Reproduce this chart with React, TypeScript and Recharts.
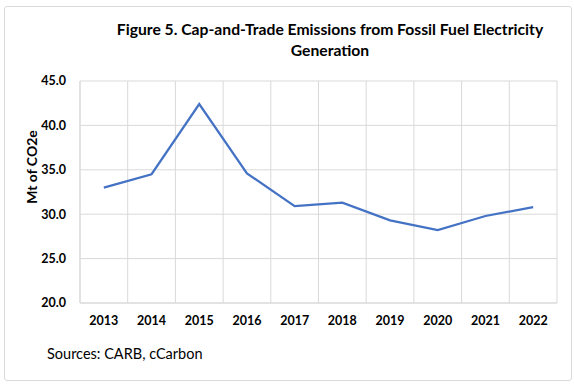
import React from 'react';
import { LineChart, Line, XAxis, YAxis, CartesianGrid } from 'recharts';

const years = ['2013', '2014', '2015', '2016', '2017', '2018', '2019', '2020', '2021', '2022'];
const emissions = [33.0, 34.5, 42.4, 34.6, 30.9, 31.3, 29.3, 28.2, 29.8, 30.8];
const yTicks = [20, 25, 30, 35, 40, 45];

const data = years.map((y, i) => ({ year: y, value: emissions[i] }));

const FONT = 'Lato, "Open Sans", sans-serif';

const YLabel = () => (
  <text
    x={0}
    y={0}
    transform="translate(37,167) rotate(-90)"
    textAnchor="middle"
    style={{ fontSize: 14, fontWeight: 700, fill: '#000', fontFamily: FONT }}
  >
    Mt of CO2e
  </text>
);

export default function App() {
  const n = years.length;
  return (
    <div style={{ position: 'fixed', left: 0, top: 0, width: 574, height: 384, background: '#fff', fontFamily: FONT }}>
      <div style={{ position: 'absolute', left: 4, top: 6, width: 568, height: 375, border: '1px solid #d9d9d9', borderRadius: 3, boxSizing: 'border-box' }} />
      <div style={{ position: 'absolute', left: 100, width: 460, top: 19, textAlign: 'center', fontWeight: 700, fontSize: 15.7, lineHeight: '21px', color: '#000' }}>
        Figure 5. Cap-and-Trade Emissions from Fossil Fuel Electricity<br />Generation
      </div>
      <div style={{ position: 'absolute', left: 0, top: 0 }}>
        <LineChart width={574} height={384} data={data} margin={{ top: 81, right: 17, bottom: 51, left: 20 }}>
          <CartesianGrid
            stroke="#d9d9d9"
            strokeWidth={1}
            verticalCoordinatesGenerator={({ offset }: any) =>
              Array.from({ length: n + 1 }, (_, i) => offset.left + (i * offset.width) / n)
            }
          />
          <XAxis
            dataKey="year"
            scale="band"
            axisLine={{ stroke: '#d9d9d9' }}
            tickLine={false}
            height={30}
            tick={{ fill: '#000', fontSize: 12.5, fontWeight: 700, fontFamily: FONT }}
            tickMargin={7}
            interval={0}
          />
          <YAxis
            domain={[20, 45]}
            ticks={yTicks}
            width={60}
            axisLine={{ stroke: '#d9d9d9' }}
            tickLine={false}
            tickFormatter={(v: number) => v.toFixed(1)}
            tick={{ fill: '#000', fontSize: 12.5, fontWeight: 700, fontFamily: FONT }}
            tickMargin={8}
            label={<YLabel />}
          />
          <Line type="linear" dataKey="value" stroke="#4472C4" strokeWidth={2.25} dot={false} isAnimationActive={false} />
        </LineChart>
      </div>
      <div style={{ position: 'absolute', left: 47, top: 345, fontSize: 14.5, color: '#000' }}>Sources: CARB, cCarbon</div>
    </div>
  );
}
